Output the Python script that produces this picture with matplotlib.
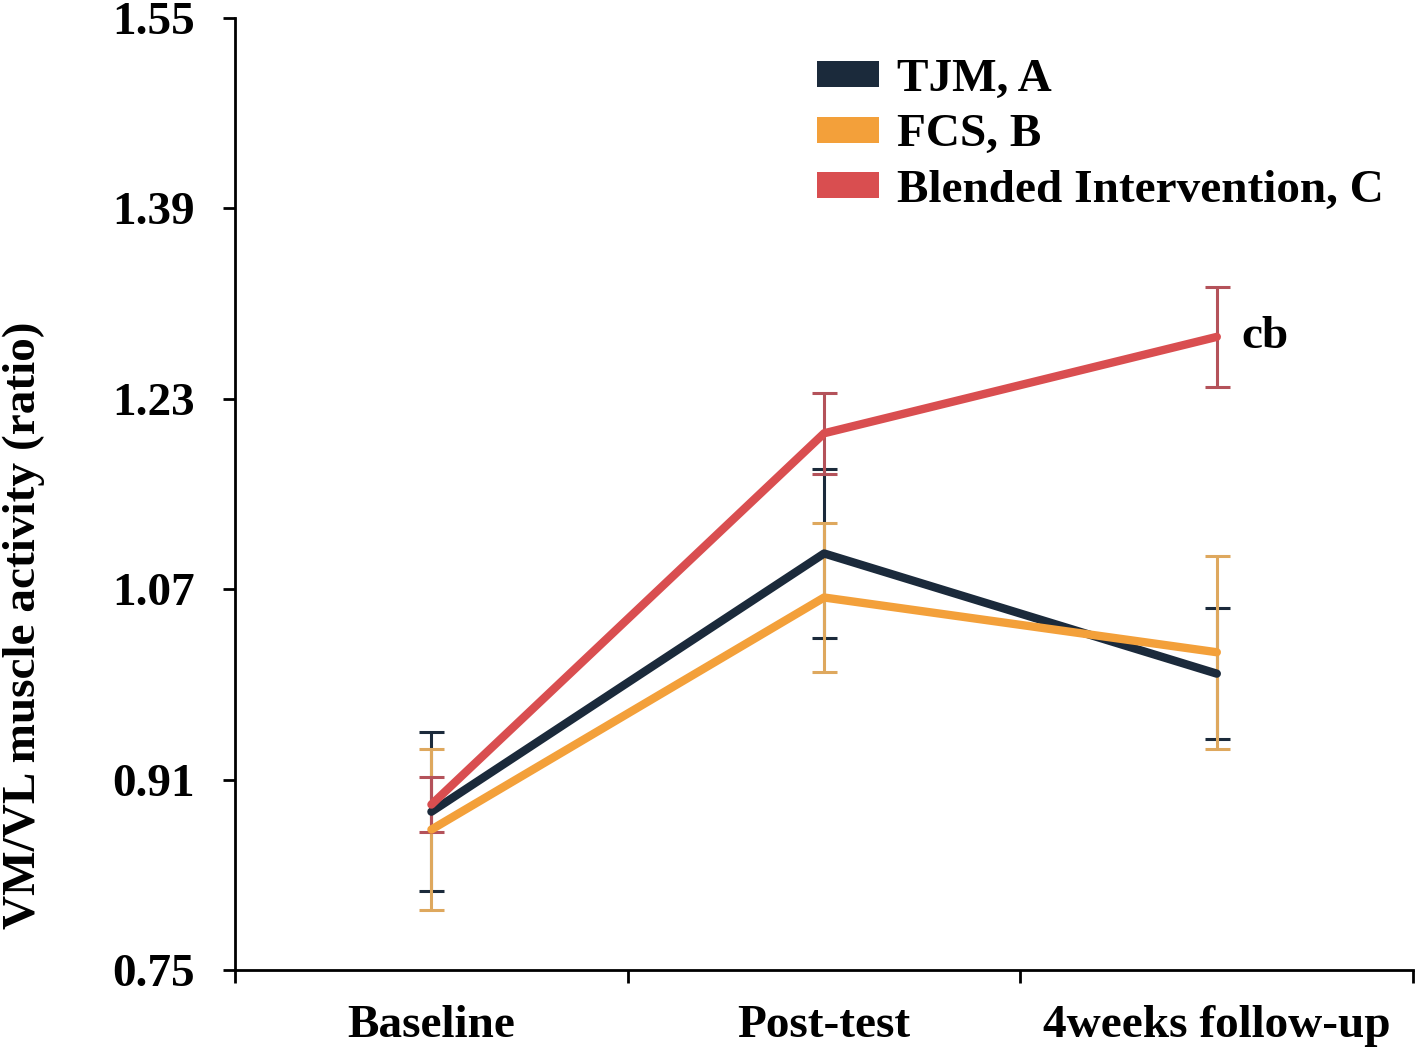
import numpy as np
import matplotlib
matplotlib.use("Agg")
from matplotlib import pyplot as plt
from matplotlib.patches import Patch

# data
phases = ["Baseline", "Post-test", "4weeks follow-up"]
yticks = [0.75, 0.91, 1.07, 1.23, 1.39, 1.55]

tjm = [0.883, 1.100, 0.999]
tjm_err = [0.067, 0.071, 0.055]
fcs = [0.868, 1.063, 1.017]
fcs_err = [0.068, 0.063, 0.081]
blended = [0.889, 1.201, 1.282]
blended_err = [0.023, 0.034, 0.042]

names = ["TJM, A", "FCS, B", "Blended Intervention, C"]
line_colors = ["#1b2a3b", "#f3a03a", "#d94e50"]
bar_colors = ["#1b2a3b", "#dea85e", "#b4525a"]

plt.rcParams['font.family'] = ['Liberation Serif', 'DejaVu Serif']
plt.rcParams['font.weight'] = 'bold'
fsize = 34

fig = plt.figure(figsize=(14.16, 10.54), dpi=100)
ax = fig.add_axes([0.166, 0.0797, 0.832, 0.9033])

x = np.arange(len(phases))
series = [(tjm, tjm_err), (fcs, fcs_err), (blended, blended_err)]
for i, (vals, errs) in enumerate(series):
    ax.errorbar(x, vals, yerr=errs, fmt="none", ecolor=bar_colors[i],
                elinewidth=2.2, capsize=9, capthick=2.2, zorder=2)
for i, (vals, errs) in enumerate(series):
    ax.plot(x, vals, color=line_colors[i], lw=6, solid_capstyle="round",
            solid_joinstyle="round", zorder=3)

ax.annotate("cb", (x[2], blended[2]), xytext=(18, 0), textcoords="offset points",
            fontsize=fsize, fontweight="bold", va="center", ha="left")

ax.set_xlim(-0.5, 2.5)
ax.set_ylim(0.75, 1.55)
ax.set_yticks(yticks)
ax.set_yticklabels([f"{t:.2f}" for t in yticks])
ax.set_xticks([-0.5, 0.5, 1.5, 2.5])
ax.set_xticklabels([])
ax.set_xticks(x, minor=True)
ax.set_xticklabels(phases, minor=True)
ax.tick_params(axis="x", which="major", direction="out", length=9, width=2)
ax.tick_params(axis="x", which="minor", length=0, pad=25, labelsize=fsize)
ax.tick_params(axis="y", direction="out", length=9, width=2, pad=20, labelsize=fsize)
for lab in ax.get_xticklabels(minor=True) + ax.get_yticklabels():
    lab.set_fontweight("bold")

for s in ["top", "right"]:
    ax.spines[s].set_visible(False)
for s in ["left", "bottom"]:
    ax.spines[s].set_linewidth(2)

ax.set_ylabel("VM/VL muscle activity (ratio)", fontsize=fsize, fontweight="bold")
ax.yaxis.set_label_coords(-0.161, 0.362)

handles = [Patch(facecolor=c, edgecolor="none") for c in line_colors]
leg = ax.legend(handles, names, loc="upper left", bbox_to_anchor=(0.494, 0.957),
                frameon=False, prop={"size": fsize, "weight": "bold"},
                borderpad=0, borderaxespad=0,
                handlelength=1.32, handleheight=0.47, handletextpad=0.38, labelspacing=0.285)

fig.savefig("out.png", dpi=100)
